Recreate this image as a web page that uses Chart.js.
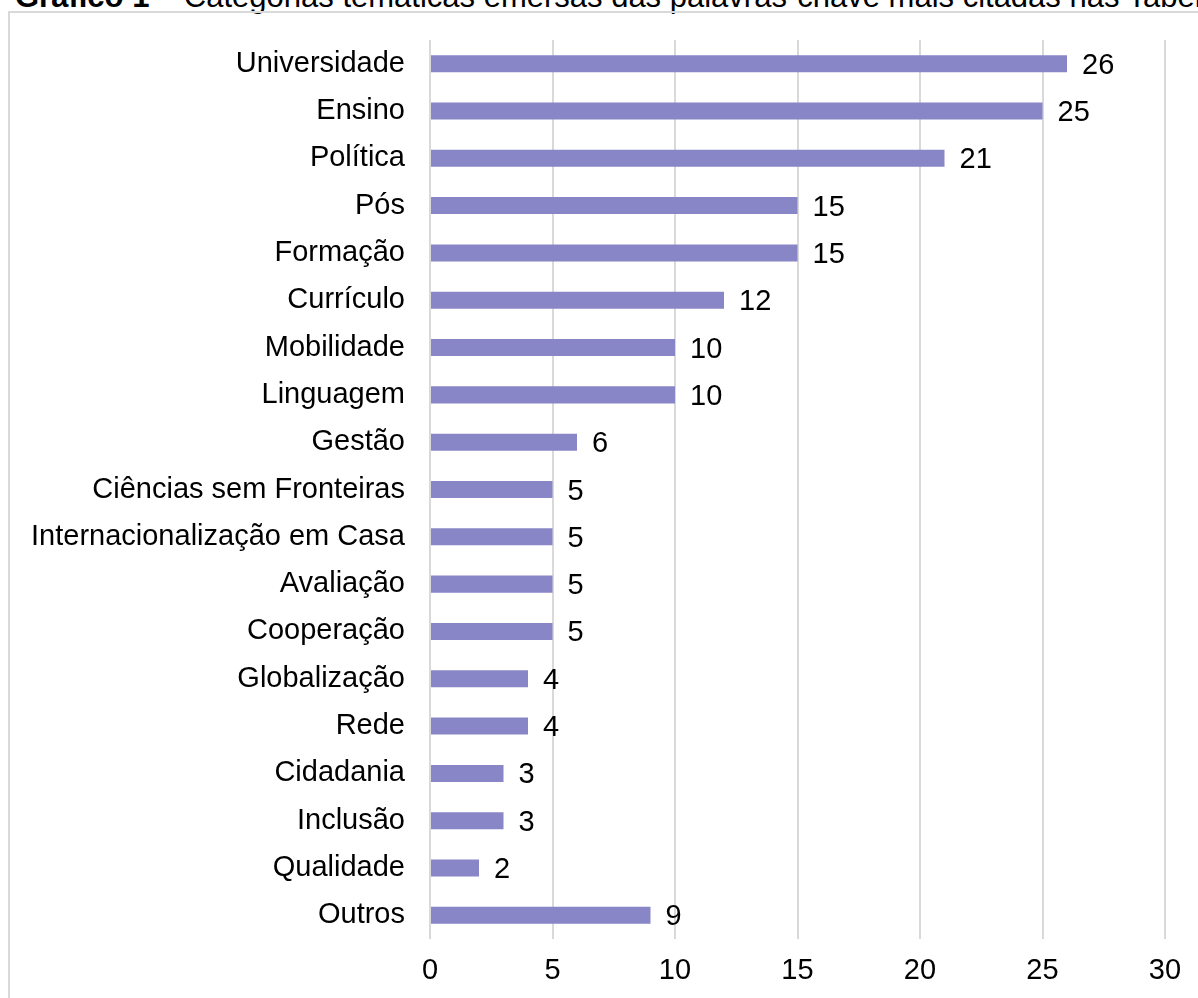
<!DOCTYPE html>
<html>
<head>
<meta charset="utf-8">
<script src="https://cdn.jsdelivr.net/npm/chart.js@4"></script>
<style>
  html, body { margin: 0; padding: 0; background: #fff; overflow: hidden; }
  body { width: 1198px; height: 998px; position: relative; font-family: "Liberation Sans", Arial, sans-serif; }
  #caption { position: absolute; left: 15px; top: -19px; font-size: 31px; line-height: 31px; white-space: nowrap; color: #000; }
  #frame { position: absolute; left: 8px; top: 11px; width: 1300px; height: 1100px; border: 2px solid #d9d9d9; }
  #wrap { position: absolute; left: 0; top: 0; width: 1198px; height: 998px; }
</style>
</head>
<body>
<div id="caption"><b>Gráfico 1</b> – Categorias temáticas emersas das palavras-chave mais citadas nas Tabelas</div>
<div id="frame"></div>
<div id="wrap"><canvas id="chart"></canvas></div>
<script>
const categories = [
    "Universidade", "Ensino", "Política", "Pós", "Formação", "Currículo",
    "Mobilidade", "Linguagem", "Gestão", "Ciências sem Fronteiras",
    "Internacionalização em Casa", "Avaliação", "Cooperação", "Globalização",
    "Rede", "Cidadania", "Inclusão", "Qualidade", "Outros"
];
const counts = [26, 25, 21, 15, 15, 12, 10, 10, 6, 5, 5, 5, 5, 4, 4, 3, 3, 2, 9];
const xTicks = [0, 5, 10, 15, 20, 25, 30];

const FONT = "'Liberation Sans', Arial, sans-serif";
const SIZE = 29;

// value labels to the right of each bar
const barLabels = {
    id: "barLabels",
    afterDatasetsDraw(chart) {
        const ctx = chart.ctx;
        const meta = chart.getDatasetMeta(0);
        ctx.save();
        ctx.font = SIZE + "px " + FONT;
        ctx.fillStyle = "#000";
        ctx.textAlign = "left";
        ctx.textBaseline = "middle";
        meta.data.forEach((bar, i) => {
            ctx.fillText(String(counts[i]), bar.x + 15, bar.y + 2);
        });
        ctx.restore();
    }
};

const chart = new Chart(document.getElementById("chart"), {
    type: "bar",
    data: {
        labels: categories,
        datasets: [{
            data: counts,
            backgroundColor: "#8886c6",
            barPercentage: 0.36,
            categoryPercentage: 1
        }]
    },
    options: {
        indexAxis: "y",
        responsive: true,
        maintainAspectRatio: false,
        animation: false,
        layout: { padding: { left: 0, top: 40, right: 33, bottom: 0 } },
        plugins: { legend: { display: false }, tooltip: { enabled: false } },
        scales: {
            x: {
                min: 0,
                max: 30,
                afterBuildTicks(axis) { axis.ticks = xTicks.map(v => ({ value: v })); },
                afterFit(axis) { axis.height = 59; axis.paddingLeft = 0; axis.paddingRight = 0; },
                grid: { color: "#d9d9d9", lineWidth: 2, drawTicks: false },
                border: { display: false },
                ticks: { color: "#000", padding: 15, font: { family: FONT, size: SIZE } }
            },
            y: {
                afterFit(axis) { axis.width = 430; axis.paddingTop = 0; axis.paddingBottom = 0; },
                grid: { display: false, drawTicks: false },
                border: { display: false },
                ticks: { color: "#000", padding: 25, autoSkip: false, font: { family: FONT, size: SIZE } }
            }
        }
    },
    plugins: [barLabels]
});
</script>
</body>
</html>
